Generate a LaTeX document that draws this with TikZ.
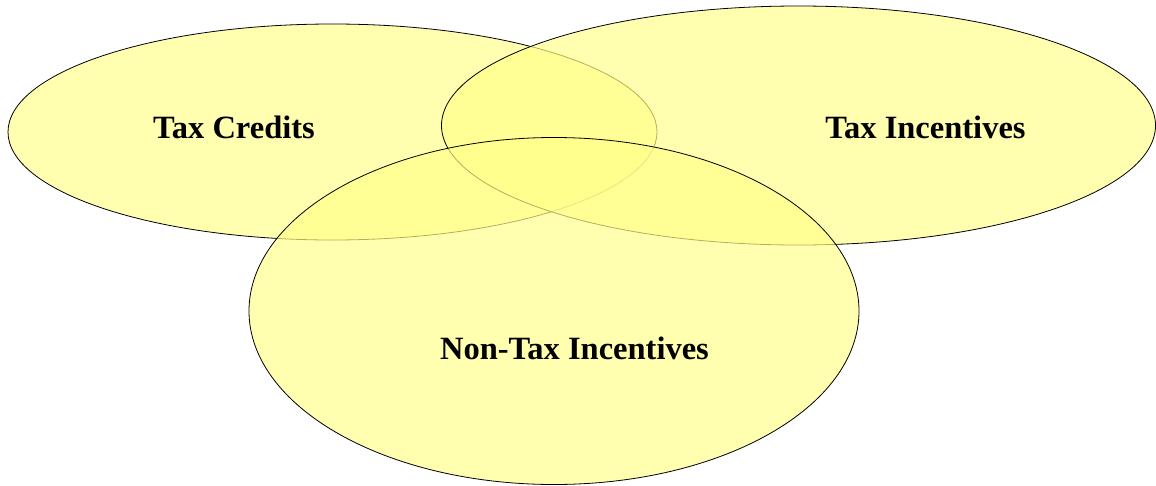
\documentclass[tikz,border=0pt]{standalone}
\usepackage{fontspec}
\setmainfont{Liberation Serif}
\usetikzlibrary{shapes.geometric}
\definecolor{venn}{RGB}{255,255,139}
\tikzset{
  set/.style={ellipse, draw=black, line width=0.8pt, fill=venn, fill opacity=0.69,
    inner sep=0pt, outer sep=0pt},
  setlabel/.style={font=\bfseries\fontsize{32.5}{38}\selectfont, inner sep=0pt, anchor=base}
}
\begin{document}
\begin{tikzpicture}[x=1pt, y=-1pt]
  \useasboundingbox (0,0) rectangle (1156,485);
  % the three overlapping sets
  \node[set, minimum width=649pt, minimum height=216pt] (credits) at (332.5,132) {};
  \node[set, minimum width=714pt, minimum height=239pt] (incent) at (798.5,125.5) {};
  \node[set, minimum width=610pt, minimum height=347pt] (nontax) at (554,311) {};
  % set labels
  \node[setlabel] (lcredits) at (234,138.5) {Tax Credits};
  \node[setlabel] (lincent) at (925.5,138.5) {Tax Incentives};
  \node[setlabel] (lnontax) at (574.5,359.5) {Non-Tax Incentives};
\end{tikzpicture}
\end{document}
